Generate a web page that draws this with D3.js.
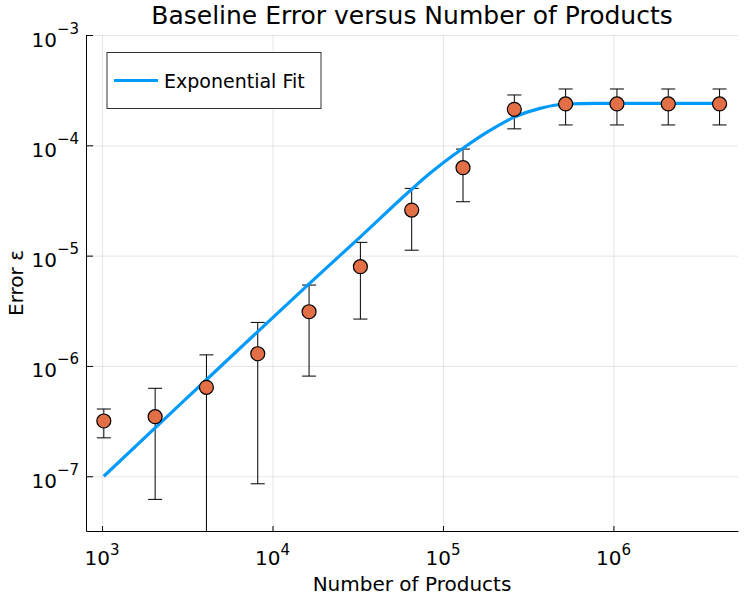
<!DOCTYPE html>
<html>
<head>
<meta charset="utf-8">
<script src="https://cdn.jsdelivr.net/npm/d3@7"></script>
<style>
  body { margin: 0; background: #fff; }
  svg text { font-family: "DejaVu Sans", sans-serif; fill: #000; }
</style>
</head>
<body>
<svg id="chart" width="747" height="598"></svg>
<script>
const width = 747;
const height = 598;
const margin = { top: 35, right: 9, bottom: 67, left: 86 };

// measured samples
const nProducts = [1024, 2048, 4096, 8192, 16384, 32768, 65536, 131072, 262144, 524288, 1048576, 2097152, 4194304];
const errMean = [3.17e-7, 3.47e-7, 6.4e-7, 1.29e-6, 3.1e-6, 7.94e-6, 2.59e-5, 6.27e-5, 2.12e-4, 2.37e-4, 2.37e-4, 2.37e-4, 2.37e-4];
const errHigh = [4.07e-7, 6.27e-7, 1.26e-6, 2.48e-6, 5.41e-6, 1.32e-5, 4.07e-5, 9.25e-5, 2.86e-4, 3.24e-4, 3.24e-4, 3.24e-4, 3.24e-4];
const errLow = [2.23e-7, 6.17e-8, 2.0e-8, 8.55e-8, 8.09e-7, 2.66e-6, 1.12e-5, 3.08e-5, 1.41e-4, 1.53e-4, 1.53e-4, 1.53e-4, 1.53e-4];

// exponential fit curve
const fitN = [1024, 2048, 4096, 8192, 16384, 32768, 65536, 83900, 131072, 183600, 262144, 370700, 524288, 796000, 1048576, 2097152, 4194304];
const fitErr = [1.0e-7, 2.75e-7, 7.5e-7, 2.05e-6, 5.55e-6, 1.48e-5, 4.0e-5, 5.57e-5, 9.4e-5, 1.33e-4, 1.80e-4, 2.16e-4, 2.37e-4, 2.40e-4, 2.40e-4, 2.40e-4, 2.40e-4];

const xTicks = [1e3, 1e4, 1e5, 1e6];
const yTicks = [1e-7, 1e-6, 1e-5, 1e-4, 1e-3];

const svg = d3.select("#chart");

const xScale = d3.scaleLog()
  .domain([805, 5.38e6])
  .range([margin.left, width - margin.right]);

const yScale = d3.scaleLog()
  .domain([3.19e-8, 1e-3])
  .range([height - margin.bottom, margin.top]);

const plotW = width - margin.left - margin.right;
const plotH = height - margin.top - margin.bottom;

svg.append("clipPath").attr("id", "clip")
  .append("rect")
  .attr("x", margin.left).attr("y", margin.top)
  .attr("width", plotW).attr("height", plotH);

// grid
svg.append("g")
  .attr("transform", `translate(0, ${height - margin.bottom})`)
  .call(d3.axisBottom(xScale).tickValues(xTicks).tickSize(-plotH).tickFormat(""))
  .call(g => g.select(".domain").remove())
  .call(g => g.selectAll("line").attr("stroke", "#000").attr("stroke-opacity", 0.1));

svg.append("g")
  .attr("transform", `translate(${margin.left}, 0)`)
  .call(d3.axisLeft(yScale).tickValues(yTicks).tickSize(-plotW).tickFormat(""))
  .call(g => g.select(".domain").remove())
  .call(g => g.selectAll("line").attr("stroke", "#000").attr("stroke-opacity", 0.1));

// axes
const xAxis = svg.append("g")
  .attr("transform", `translate(0, ${height - margin.bottom})`)
  .call(d3.axisBottom(xScale).tickValues(xTicks).tickSizeInner(-5).tickSizeOuter(0).tickFormat(""));
xAxis.select(".domain").attr("stroke", "#000");

const yAxis = svg.append("g")
  .attr("transform", `translate(${margin.left}, 0)`)
  .call(d3.axisLeft(yScale).tickValues(yTicks).tickSizeInner(-7).tickSizeOuter(0).tickFormat(""));
yAxis.select(".domain").attr("stroke", "#000");

// tick labels with superscript exponents
const expo = v => {
  const e = Math.round(Math.log10(v));
  return e < 0 ? "\u2212" + Math.abs(e) : String(e);
};

xTicks.forEach(v => {
  const t = svg.append("text")
    .attr("x", xScale(v))
    .attr("y", 565)
    .attr("text-anchor", "middle")
    .style("font-size", "20px");
  t.append("tspan").text("10");
  t.append("tspan").attr("dy", -10).style("font-size", "15px").text(expo(v));
});

yTicks.forEach(v => {
  const t = svg.append("text")
    .attr("x", margin.left - 7)
    .attr("y", yScale(v) + 11.5)
    .attr("text-anchor", "end")
    .style("font-size", "20px");
  t.append("tspan").text("10");
  t.append("tspan").attr("dy", -13).style("font-size", "15px").text(expo(v));
});

// error bars
const bars = svg.append("g").attr("clip-path", "url(#clip)")
  .selectAll("g")
  .data(nProducts.map((n, i) => ({ n, lo: errLow[i], hi: errHigh[i] })))
  .join("g")
  .attr("stroke", "#000")
  .attr("stroke-width", 1);

bars.append("line")
  .attr("x1", d => xScale(d.n)).attr("x2", d => xScale(d.n))
  .attr("y1", d => yScale(d.lo)).attr("y2", d => yScale(d.hi));
bars.append("line")
  .attr("x1", d => xScale(d.n) - 7).attr("x2", d => xScale(d.n) + 7)
  .attr("y1", d => yScale(d.hi)).attr("y2", d => yScale(d.hi));
bars.append("line")
  .attr("x1", d => xScale(d.n) - 7).attr("x2", d => xScale(d.n) + 7)
  .attr("y1", d => yScale(d.lo)).attr("y2", d => yScale(d.lo));

// fit line
const line = d3.line()
  .x((d, i) => xScale(fitN[i]))
  .y(d => yScale(d))
  .curve(d3.curveMonotoneX);

svg.append("path")
  .datum(fitErr)
  .attr("fill", "none")
  .attr("stroke", "#009AFA")
  .attr("stroke-width", 3.2)
  .attr("d", line);

// markers
svg.append("g")
  .selectAll("circle")
  .data(nProducts)
  .join("circle")
  .attr("cx", d => xScale(d))
  .attr("cy", (d, i) => yScale(errMean[i]))
  .attr("r", 7)
  .attr("fill", "#E26F46")
  .attr("stroke", "#000")
  .attr("stroke-width", 1.2);

// title and axis labels
svg.append("text")
  .attr("x", margin.left + plotW / 2)
  .attr("y", 24)
  .attr("text-anchor", "middle")
  .style("font-size", "25px")
  .text("Baseline Error versus Number of Products");

svg.append("text")
  .attr("x", margin.left + plotW / 2)
  .attr("y", 591)
  .attr("text-anchor", "middle")
  .style("font-size", "20px")
  .text("Number of Products");

svg.append("text")
  .attr("transform", `translate(23, ${margin.top + plotH / 2}) rotate(-90)`)
  .attr("text-anchor", "middle")
  .style("font-size", "20px")
  .text("Error \u03b5");

// legend
const legend = svg.append("g");
legend.append("rect")
  .attr("x", 107).attr("y", 52.5)
  .attr("width", 214).attr("height", 56)
  .attr("fill", "#fff")
  .attr("stroke", "#333")
  .attr("stroke-width", 1);
legend.append("line")
  .attr("x1", 114).attr("x2", 158)
  .attr("y1", 80.5).attr("y2", 80.5)
  .attr("stroke", "#009AFA")
  .attr("stroke-width", 3.2);
legend.append("text")
  .attr("x", 164).attr("y", 88)
  .style("font-size", "19px")
  .text("Exponential Fit");
</script>
</body>
</html>
